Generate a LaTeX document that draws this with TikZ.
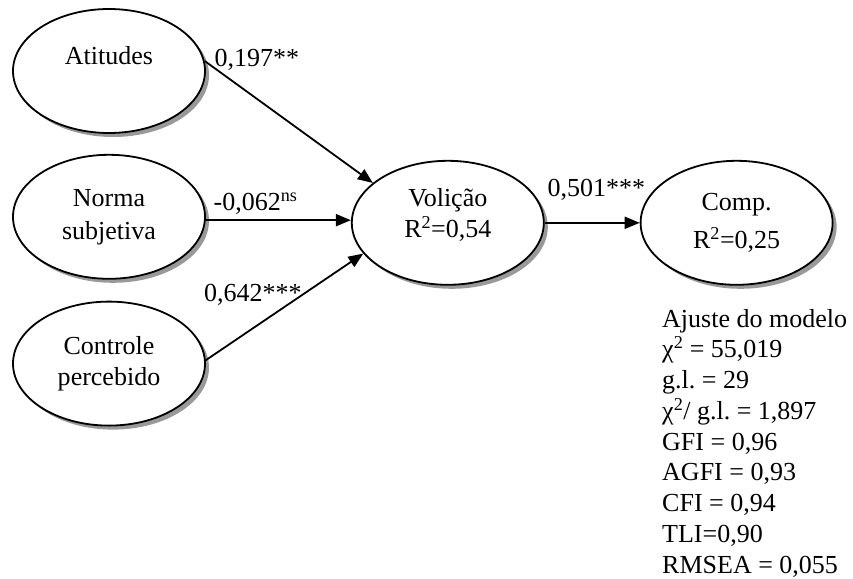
\documentclass[tikz,border=0pt]{standalone}
\usepackage{fontspec}
\setmainfont{Liberation Serif}
\usetikzlibrary{arrows.meta,positioning,shapes.geometric,shadows}
\frenchspacing

\begin{document}
\begin{tikzpicture}[
      font=\fontsize{26}{31}\selectfont,
      construct/.style={
         ellipse,
         draw=black,
         line width=1.8pt,
         fill=white,
         drop shadow={shadow xshift=4pt,shadow yshift=-4pt,fill=gray!80,opacity=1},
         align=center,
         inner sep=0pt,
         minimum width=192pt,
         minimum height=124pt},
       path_arrow/.style={
         -{Triangle[length=15pt,width=12pt]},
         line width=1.8pt},
       coef/.style={
         inner sep=0pt}
]
      \useasboundingbox (0,0) rectangle (853pt,-578pt);

      % exogenous constructs
      \node[construct] (atitudes) at (109pt,-71pt) {Atitudes\\\mbox{}};
      \node[construct,below=20pt of atitudes] (norma) {Norma\\[2pt]subjetiva};
      \node[construct,below=21pt of norma] (controle) {Controle\\percebido};

      % endogenous constructs
      \node[construct,right=145pt of norma,yshift=-6pt] (volicao) {Volição\\R\textsuperscript{2}=0,54\\[-11pt]\mbox{}};
      \node[construct,right=95pt of volicao] (comp) {Comp.\\[7pt]R\textsuperscript{2}=0,25};

      % paths
      \draw[path_arrow] (atitudes.6) -- node[coef,pos=0,anchor=base west,xshift=9pt,yshift=-6pt] {0,197**} (volicao.152);
      \draw[path_arrow] (norma.-2) -- node[coef,pos=0,anchor=base west,xshift=7pt,yshift=10pt] {-0,062\textsuperscript{ns}} (norma.-2 -| volicao.west);
      \draw[path_arrow] (controle.2) -- node[coef,midway,anchor=base east,xshift=18pt,yshift=5pt] {0,642***} (volicao.200);
      \draw[path_arrow] (volicao.east) -- node[coef,pos=0,anchor=base west,xshift=2pt,yshift=26pt] {0,501***} (volicao.east -| comp.west);

      % model fit
      \node[anchor=north west,align=left,inner sep=0pt,font=\fontsize{26}{30.75}\selectfont] (ajuste) at (662pt,-309pt) {Ajuste do modelo\\
         χ\textsuperscript{2} = 55,019\\
         g.l. = 29\\
         χ\textsuperscript{2}/ g.l. = 1,897\\
         GFI = 0,96\\
         AGFI = 0,93\\
         CFI = 0,94\\
         TLI=0,90\\
         RMSEA = 0,055};
\end{tikzpicture}
\end{document}
